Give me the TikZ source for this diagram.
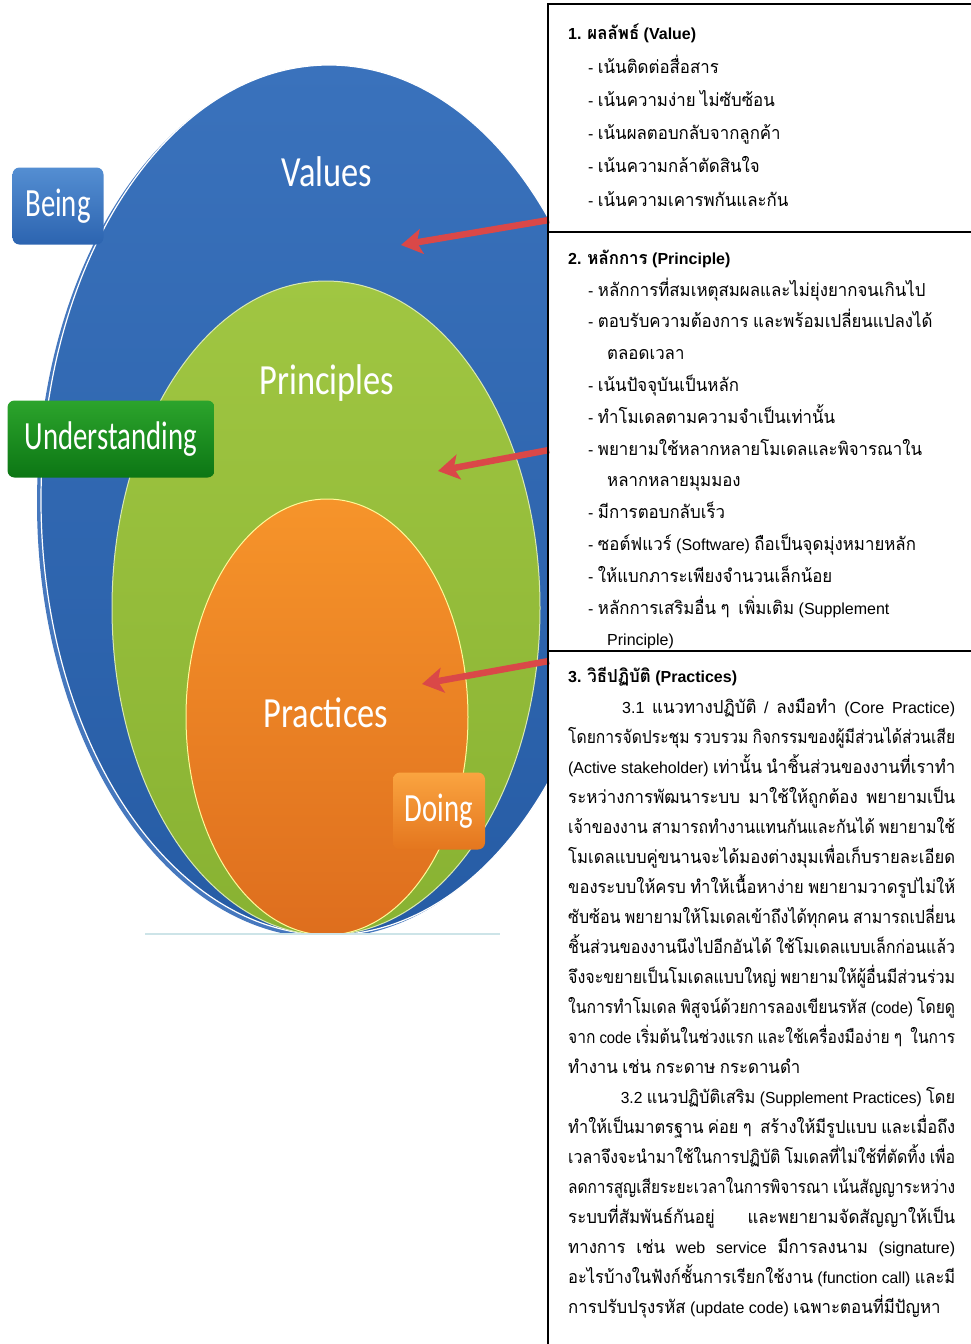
\documentclass[tikz,border=0pt]{standalone}
\usepackage{graphicx}
\usepackage{fontspec}
\setmainfont{Liberation Sans}
\newfontfamily\thaifont[Script=Thai,Scale=1.12,FakeStretch=0.94]{Loma}
\newfontfamily\labelfont[FakeStretch=0.8]{Carlito}
\newfontfamily\tagfont[FakeStretch=0.72]{Carlito}
\usetikzlibrary{arrows.meta,positioning}

% Thai letters switch to the Thai font by themselves
\XeTeXinterchartokenstate=1
\newXeTeXintercharclass\thaiclass
\newcount\thaichar
\thaichar="0E00
\loop
  \XeTeXcharclass\thaichar=\thaiclass
  \ifnum\thaichar<"0E7F \advance\thaichar by 1
\repeat
\let\latinswitch\relax
\XeTeXinterchartoks 0 \thaiclass = {\thaifont}
\XeTeXinterchartoks 4095 \thaiclass = {\thaifont}
\XeTeXinterchartoks \thaiclass 0 = {\latinswitch}
\XeTeXinterchartoks \thaiclass 4095 = {\latinswitch}
\XeTeXinterchartoks 4095 0 = {\latinswitch}
\newcommand\bodyfont{\let\latinswitch\rmfamily\fontsize{16}{20}\selectfont}

% justified line of the practice paragraphs
\newsavebox\linebox
\newcommand\jline[1]{\sbox\linebox{#1}%
  \ifdim\wd\linebox>387pt \resizebox{387pt}{\height}{\usebox\linebox}%
  \else\makebox[387pt][s]{#1}\fi}

\definecolor{valblue}{RGB}{58,114,188}
\definecolor{valbluedark}{RGB}{38,92,165}
\definecolor{rimblue}{RGB}{70,120,190}
\definecolor{prigreen}{RGB}{160,198,66}
\definecolor{prigreendark}{RGB}{136,178,50}
\definecolor{pracorange}{RGB}{246,148,42}
\definecolor{pracorangedark}{RGB}{222,110,30}
\definecolor{arrowred}{RGB}{218,72,72}
\definecolor{beingtop}{RGB}{84,142,210}
\definecolor{beingbot}{RGB}{44,100,176}
\definecolor{undtop}{RGB}{44,164,44}
\definecolor{undbot}{RGB}{12,118,20}
\definecolor{dotop}{RGB}{250,164,64}
\definecolor{dobot}{RGB}{228,118,30}
\definecolor{edgeline}{RGB}{205,228,232}

\begin{document}
\begin{tikzpicture}[x=1pt,y=-1pt,
  txt/.style={anchor=base west,inner sep=0pt,font=\bodyfont},
  head/.style={txt,font=\bodyfont\bfseries},
  elabel/.style={text=white,font=\labelfont\fontsize{43}{43}\selectfont},
  tag/.style={rounded corners=7pt,minimum height=77pt,inner sep=0pt,text=white,
    font=\tagfont\fontsize{40}{40}\selectfont},
  redarrow/.style={arrowred,line width=6.5pt,-{Stealth[length=21pt,width=25pt,inset=5pt]}},
  rule/.style={line width=1.6pt}]
\useasboundingbox (0,0) rectangle (970,1344);

% the three rings
\begin{scope}
\clip (0,0) rectangle (547,934);
\fill[rimblue] (325,503) ellipse [x radius=288pt, y radius=435pt];
\shade[top color=valblue, bottom color=valbluedark, draw=white, line width=1.2pt]
  (329,500) ellipse [x radius=288pt, y radius=435pt];
\shade[top color=prigreen, bottom color=prigreendark, draw=prigreen!40!white, line width=1pt]
  (326,608) ellipse [x radius=214pt, y radius=327pt];
\shade[top color=pracorange, bottom color=pracorangedark, draw=yellow!40!white, line width=1pt]
  (327,717) ellipse [x radius=141pt, y radius=218pt];
\end{scope}
\draw[edgeline, line width=2pt] (145,934) -- (500,934);

\node[elabel] (values)    at (327,172) {Values};
\node[elabel] (principles) at (327,383) {Principles};
\node[elabel] (practices) at (326,713) {Practices};

\node[tag, minimum width=91pt, top color=beingtop, bottom color=beingbot] (being) at (58,206) {Being};
\node[tag, minimum width=207pt, top color=undtop, bottom color=undbot] (understanding) at (111,439) {Understanding};
\node[tag, minimum width=92pt, top color=dotop, bottom color=dobot] (doing) at (439,811) {Doing};

\coordinate (a_val) at (549,220);
\coordinate (t_val) at (401,245);
\coordinate (a_pri) at (549,450);
\coordinate (t_pri) at (438,471);
\coordinate (a_pra) at (549,661);
\coordinate (t_pra) at (422,684);
\path[redarrow]
(a_val) edge (t_val)
(a_pri) edge (t_pri)
(a_pra) edge (t_pra);

% text column
\draw[rule] (548,1344) -- (548,4) -- (972,4);
\draw[rule] (548,232) -- (972,232);
\draw[rule] (548,651) -- (972,651);

\node[head] (v_head) at (568,39) {1. ผลลัพธ์ (Value)};
\foreach \txt [count=\i] in {
  {- เน้นติดต่อสื่อสาร},
  {- เน้นความง่าย ไม่ซับซ้อน},
  {- เน้นผลตอบกลับจากลูกค้า},
  {- เน้นความกล้าตัดสินใจ},
  {- เน้นความเคารพกันและกัน}}
  \node[txt] (v_\i) at (588,{73+33.3*(\i-1)}) {\txt};

\node[head] (p_head) at (568,264) {2. หลักการ (Principle)};
\foreach \txt [count=\i] in {
  {- หลักการที่สมเหตุสมผลและไม่ยุ่งยากจนเกินไป},
  {- ตอบรับความต้องการ และพร้อมเปลี่ยนแปลงได้},
  {\hspace*{19pt}ตลอดเวลา},
  {- เน้นปัจจุบันเป็นหลัก},
  {- ทำโมเดลตามความจำเป็นเท่านั้น},
  {- พยายามใช้หลากหลายโมเดลและพิจารณาใน},
  {\hspace*{19pt}หลากหลายมุมมอง},
  {- มีการตอบกลับเร็ว},
  {- ซอต์ฟแวร์ (Software) ถือเป็นจุดมุ่งหมายหลัก},
  {- ให้แบกภาระเพียงจำนวนเล็กน้อย},
  {- หลักการเสริมอื่น ๆ \ เพิ่มเติม (Supplement},
  {\hspace*{19pt}Principle)}}
  \node[txt] (p_\i) at (588,{296+31.8*(\i-1)}) {\txt};

\node[head] (r_head) at (568,682) {3. วิธีปฏิบัติ (Practices)};
\foreach \txt [count=\i] in {
  {\hspace*{54pt}3.1 แนวทางปฏิบัติ / ลงมือทำ (Core Practice)},
  {โดยการจัดประชุม รวบรวม กิจกรรมของผู้มีส่วนได้ส่วนเสีย},
  {(Active stakeholder) เท่านั้น นำชิ้นส่วนของงานที่เราทำ},
  {ระหว่างการพัฒนาระบบ มาใช้ให้ถูกต้อง พยายามเป็น},
  {เจ้าของงาน สามารถทำงานแทนกันและกันได้ พยายามใช้},
  {โมเดลแบบคู่ขนานจะได้มองต่างมุมเพื่อเก็บรายละเอียด},
  {ของระบบให้ครบ ทำให้เนื้อหาง่าย พยายามวาดรูปไม่ให้},
  {ซับซ้อน พยายามให้โมเดลเข้าถึงได้ทุกคน สามารถเปลี่ยน},
  {ชิ้นส่วนของงานนึงไปอีกอันได้ ใช้โมเดลแบบเล็กก่อนแล้ว},
  {จึงจะขยายเป็นโมเดลแบบใหญ่ พยายามให้ผู้อื่นมีส่วนร่วม},
  {ในการทำโมเดล พิสูจน์ด้วยการลองเขียนรหัส (code) โดยดู},
  {จาก code เริ่มต้นในช่วงแรก และใช้เครื่องมือง่าย ๆ \ ในการ},
  {ทำงาน เช่น กระดาษ กระดานดำ\hfill},
  {\hspace*{54pt}3.2 แนวปฏิบัติเสริม (Supplement Practices) โดย},
  {ทำให้เป็นมาตรฐาน ค่อย ๆ \ สร้างให้มีรูปแบบ และเมื่อถึง},
  {เวลาจึงจะนำมาใช้ในการปฏิบัติ โมเดลที่ไม่ใช้ที่ตัดทิ้ง เพื่อ},
  {ลดการสูญเสียระยะเวลาในการพิจารณา เน้นสัญญาระหว่าง},
  {ระบบที่สัมพันธ์กันอยู่ และพยายามจัดสัญญาให้เป็น},
  {ทางการ เช่น web service มีการลงนาม (signature)},
  {อะไรบ้างในฟังก์ชั้นการเรียกใช้งาน (function call) และมี},
  {การปรับปรุงรหัส (update code) เฉพาะตอนที่มีปัญหา\hfill}}
  \node[txt] (r_\i) at (568,{713+30*(\i-1)}) {\jline{\txt}};
\end{tikzpicture}
\end{document}
